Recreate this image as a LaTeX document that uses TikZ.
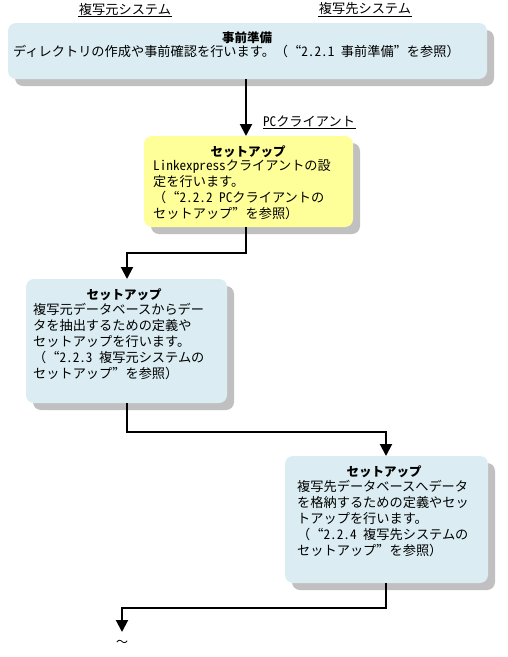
\documentclass[tikz,border=0pt]{standalone}
\usepackage{fontspec}
\setmainfont{Noto Sans CJK JP}[RawFeature=+hwid]
\newfontfamily\fwfont{Noto Sans CJK JP}[RawFeature=+fwid]
\newcommand{\fq}[1]{{\fwfont #1}}
\usetikzlibrary{arrows.meta}
\definecolor{boxblue}{RGB}{219,237,243}
\definecolor{boxyellow}{RGB}{255,255,153}
\definecolor{shadowgray}{RGB}{192,192,192}
\tikzset{
  ttl/.style={font=\fontsize{12.5}{14}\selectfont\bfseries, anchor=center},
  body/.style={font=\fontsize{13.2}{16}\selectfont, anchor=north west, align=left, inner sep=0pt},
  hdr/.style={font=\fontsize{13.2}{14}\selectfont, anchor=center, inner sep=0pt},
  flow/.style={line width=2pt, -{Triangle[length=12pt,width=12pt]}},
}
\begin{document}
\begin{tikzpicture}[x=1pt,y=-1pt]
\useasboundingbox (0,0) rectangle (508,657);
% headers
\node[hdr] (h1) at (125,9) {複写元システム};
\draw[line width=0.8pt] (78,16) -- (172,16);
\node[hdr] (h2) at (365,9) {複写先システム};
\draw[line width=0.8pt] (318,16) -- (412,16);
% box 1
\fill[shadowgray, rounded corners=8pt] (15,30) rectangle (494,86);
\fill[boxblue, rounded corners=8pt] (8,23) rectangle (487,79);
\coordinate (b1s) at (246,79);
\node[ttl] (t1) at (247,38) {事前準備};
\node[body] (x1) at (13,45) {ディレクトリの作成や事前確認を行います。\fq{（“}2.2.1 事前準備\fq{”}を参照\fq{）}};
% box 2
\fill[shadowgray, rounded corners=8pt] (151,143) rectangle (360,234);
\fill[boxyellow, rounded corners=8pt] (144,136) rectangle (353,227);
\coordinate (b2n) at (246,136);
\coordinate (b2s) at (246,227);
\node[hdr] (pc) at (309,121) {PCクライアント};
\draw[line width=0.8pt] (263,128) -- (356,128);
\node[ttl] (t2) at (248,152) {セットアップ};
\node[body] (x2) at (153,160) {Linkexpressクライアントの設\\定を行います。\\\fq{（“}2.2.2 PCクライアントの\\セットアップ\fq{”}を参照\fq{）}};
% box 3
\fill[shadowgray, rounded corners=8pt] (33,286) rectangle (234,410);
\fill[boxblue, rounded corners=8pt] (26,279) rectangle (227,403);
\coordinate (b3n) at (127,279);
\coordinate (b3s) at (127,403);
\node[ttl] (t3) at (124,295) {セットアップ};
\node[body] (x3) at (33,303) {複写元データベースからデー\\タを抽出するための定義や\\セットアップを行います。\\\fq{（“}2.2.3 複写元システムの\\セットアップ\fq{”}を参照\fq{）}};
% box 4
\fill[shadowgray, rounded corners=8pt] (292,463) rectangle (495,590);
\fill[boxblue, rounded corners=8pt] (285,456) rectangle (488,583);
\coordinate (b4n) at (386,456);
\coordinate (b4s) at (386,583);
\node[ttl] (t4) at (384,472) {セットアップ};
\node[body] (x4) at (297,480) {複写先データベースへデータ\\を格納するための定義やセッ\\トアップを行います。\\\fq{（“}2.2.4 複写先システムの\\セットアップ\fq{”}を参照\fq{）}};
% end
\node[font=\fontsize{12}{14}\selectfont, inner sep=0pt] (tl) at (122,643) {\fq{～}};
\coordinate (endtip) at (122,632);
% connectors
\draw[flow] (b1s) -- (b2n);
\draw[flow] (b2s) |- (127,253) -- (b3n);
\draw[flow] (b3s) |- (386,432) -- (b4n);
\draw[flow] (b4s) |- (122,608) -- (endtip);
\end{tikzpicture}
\end{document}
